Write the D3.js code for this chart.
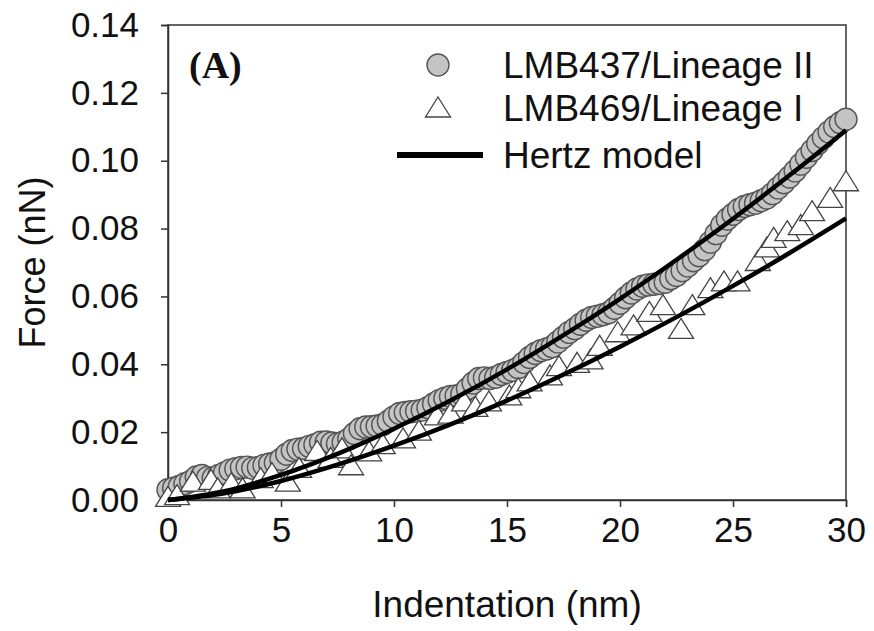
<!DOCTYPE html>
<html>
<head>
<meta charset="utf-8">
<script src="https://cdn.jsdelivr.net/npm/d3@7"></script>
<style>
  body { margin: 0; background: #fff; }
  svg { display: block; font-family: "Liberation Sans", Arial, sans-serif; }
</style>
</head>
<body>
<svg id="chart" width="874" height="631"></svg>
<script>
// LMB437/Lineage II, sampled every 0.25 nm from 0 to 30
const circleX = d3.range(0, 30.001, 0.25);
const circleY = [
  0.0030, 0.0035, 0.0040, 0.0048, 0.0055, 0.0068, 0.0072, 0.0066, 0.0065, 0.0072,
  0.0080, 0.0088, 0.0092, 0.0096, 0.0097, 0.0094, 0.0096, 0.0102, 0.0106, 0.0110,
  0.0120, 0.0135, 0.0146, 0.0150, 0.0152, 0.0158, 0.0163, 0.0170, 0.0171, 0.0168,
  0.0166, 0.0170, 0.0180, 0.0196, 0.0210, 0.0215, 0.0216, 0.0218, 0.0222, 0.0232,
  0.0245, 0.0255, 0.0258, 0.0260, 0.0262, 0.0265, 0.0272, 0.0283, 0.0293, 0.0300,
  0.0305, 0.0307, 0.0312, 0.0328, 0.0345, 0.0358, 0.0360, 0.0358, 0.0362, 0.0370,
  0.0376, 0.0382, 0.0390, 0.0405, 0.0420, 0.0432, 0.0440, 0.0445, 0.0452, 0.0466,
  0.0480, 0.0494, 0.0505, 0.0518, 0.0530, 0.0538, 0.0542, 0.0546, 0.0552, 0.0565,
  0.0580, 0.0596, 0.0610, 0.0622, 0.0630, 0.0634, 0.0636, 0.0638, 0.0642, 0.0652,
  0.0662, 0.0676, 0.0690, 0.0705, 0.0720, 0.0738, 0.0760, 0.0785, 0.0810, 0.0828,
  0.0842, 0.0856, 0.0865, 0.0870, 0.0875, 0.0882, 0.0890, 0.0903, 0.0920, 0.0935,
  0.0952, 0.0970, 0.0990, 0.1010, 0.1030, 0.1050, 0.1068, 0.1085, 0.1100, 0.1112,
  0.1122
];

// LMB469/Lineage I
const triX = [
  0, 0.4, 1.1, 1.9, 2.2, 2.8, 3.3, 4.1, 4.6, 5.3, 5.8, 6.6, 7.2, 7.7, 8.1, 8.9, 9.5,
  10.4, 11.1, 11.9, 12.5, 13.1, 13.6, 14.2, 15.1, 15.5, 16.0, 16.9, 17.3, 18.1, 18.7,
  19.1, 19.9, 20.6, 21.3, 21.9, 22.7, 23.2, 24.0, 24.6, 25.2, 26.1, 26.5, 26.8, 27.4,
  28.0, 28.5, 29.3, 30.0
];
const triY = [
  0.0005, 0.0010, 0.0050, 0.0055, 0.0030, 0.0045, 0.0030, 0.0060, 0.0075, 0.0050,
  0.0090, 0.0140, 0.0120, 0.0148, 0.0098, 0.0139, 0.0160, 0.0177, 0.0200, 0.0245,
  0.0250, 0.0286, 0.0270, 0.0286, 0.0304, 0.0325, 0.0345, 0.0363, 0.0390, 0.0400,
  0.0410, 0.0450, 0.0490, 0.0510, 0.0550, 0.0570, 0.0500, 0.0570, 0.0620, 0.0640,
  0.0640, 0.0700, 0.0740, 0.0768, 0.0788, 0.0806, 0.0847, 0.0886, 0.0935
];

// Hertz model curves read at 2.5 nm steps
const hertzX = [0, 2.5, 5, 7.5, 10, 12.5, 15, 17.5, 20, 22.5, 25, 27.5, 30];
const hertzY437 = [0, 0.0026, 0.0074, 0.0136, 0.0210, 0.0293, 0.0385, 0.0486, 0.0593, 0.0708, 0.0829, 0.0957, 0.1090];
const hertzY469 = [0, 0.0020, 0.0056, 0.0104, 0.0160, 0.0223, 0.0293, 0.0370, 0.0452, 0.0539, 0.0631, 0.0728, 0.0830];

const xTicks = [0, 5, 10, 15, 20, 25, 30];
const yTicks = [0, 0.02, 0.04, 0.06, 0.08, 0.10, 0.12, 0.14];

const svg = d3.select('#chart');
const margin = { top: 25, right: 28, bottom: 131, left: 168 };
const width = 874 - margin.left - margin.right;
const height = 631 - margin.top - margin.bottom;

const g = svg.append('g').attr('transform', `translate(${margin.left},${margin.top})`);

const x = d3.scaleLinear().domain([0, 30]).range([0, width]);
const y = d3.scaleLinear().domain([0, 0.14]).range([height, 0]);

const axisColor = '#333';

const xAxis = g.append('g')
  .attr('transform', `translate(0,${height})`)
  .call(d3.axisBottom(x).tickValues(xTicks).tickSize(7).tickPadding(10).tickFormat(d3.format('d')));
const yAxis = g.append('g')
  .call(d3.axisLeft(y).tickValues(yTicks).tickSize(7).tickPadding(22).tickFormat(d3.format('.2f')));

[xAxis, yAxis].forEach((a) => {
  a.select('.domain').attr('stroke', axisColor).attr('stroke-width', 1.5);
  a.selectAll('.tick line').attr('stroke', axisColor).attr('stroke-width', 1.5);
  a.selectAll('.tick text').attr('fill', '#111').style('font-size', '35px');
});

// top and right frame
g.append('rect')
  .attr('width', width).attr('height', height)
  .attr('fill', 'none').attr('stroke', axisColor).attr('stroke-width', 1.5);

const circles = circleX.map((d, i) => ({ x: d, y: circleY[i] }));
const tris = triX.map((d, i) => ({ x: d, y: triY[i] }));

g.selectAll('circle.pt')
  .data(circles)
  .enter()
  .append('circle')
  .attr('class', 'pt')
  .attr('cx', (d) => x(d.x))
  .attr('cy', (d) => y(d.y))
  .attr('r', 11)
  .attr('fill', '#c4c4c4')
  .attr('stroke', '#555')
  .attr('stroke-width', 1.4);

const triPath = 'M0,-12L12.5,8L-12.5,8Z';
g.selectAll('path.tri')
  .data(tris)
  .enter()
  .append('path')
  .attr('class', 'tri')
  .attr('d', triPath)
  .attr('transform', (d) => `translate(${x(d.x)},${y(d.y)})`)
  .attr('fill', '#fff')
  .attr('stroke', '#444')
  .attr('stroke-width', 1.3);

const line = d3.line()
  .x((d) => x(d[0]))
  .y((d) => y(d[1]))
  .curve(d3.curveMonotoneX);

[hertzY437, hertzY469].forEach((ys) => {
  g.append('path')
    .datum(hertzX.map((d, i) => [d, ys[i]]))
    .attr('fill', 'none')
    .attr('stroke', '#000')
    .attr('stroke-width', 4.5)
    .attr('d', line);
});

// axis titles
svg.append('text')
  .attr('x', margin.left + width / 2)
  .attr('y', 617)
  .attr('text-anchor', 'middle')
  .attr('fill', '#111')
  .style('font-size', '37px')
  .text('Indentation (nm)');

svg.append('text')
  .attr('transform', `translate(45,${margin.top + height / 2}) rotate(-90)`)
  .attr('text-anchor', 'middle')
  .attr('fill', '#111')
  .style('font-size', '36px')
  .text('Force (nN)');

// panel label
svg.append('text')
  .attr('x', 189)
  .attr('y', 78)
  .attr('fill', '#111')
  .style('font-family', '"Liberation Serif", "Times New Roman", serif')
  .style('font-weight', 'bold')
  .style('font-size', '38px')
  .text('(A)');

// legend
const legend = svg.append('g');
const legendText = ['LMB437/Lineage II', 'LMB469/Lineage I', 'Hertz model'];
const legendY = [65, 108, 155];

legend.append('circle')
  .attr('cx', 438).attr('cy', legendY[0]).attr('r', 11)
  .attr('fill', '#c4c4c4').attr('stroke', '#555').attr('stroke-width', 1.4);
legend.append('path')
  .attr('d', triPath)
  .attr('transform', `translate(438,${legendY[1] + 1})`)
  .attr('fill', '#fff').attr('stroke', '#444').attr('stroke-width', 1.3);
legend.append('line')
  .attr('x1', 397).attr('x2', 483)
  .attr('y1', legendY[2]).attr('y2', legendY[2])
  .attr('stroke', '#000').attr('stroke-width', 6);

legend.selectAll('text')
  .data(legendText)
  .enter()
  .append('text')
  .attr('x', 503)
  .attr('y', (d, i) => legendY[i])
  .attr('dy', '0.36em')
  .attr('fill', '#111')
  .style('font-size', '37px')
  .text((d) => d);
</script>
</body>
</html>
